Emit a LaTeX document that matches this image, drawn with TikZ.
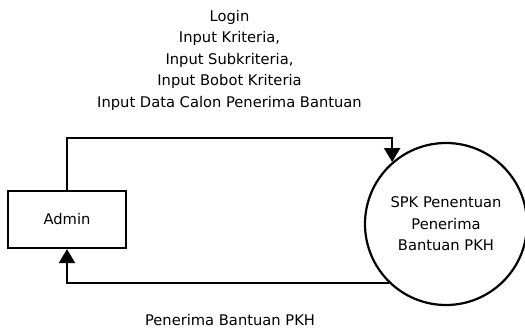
\documentclass[tikz,border=0pt]{standalone}
\usepackage{fontspec}
\setmainfont{DejaVu Sans}
\usetikzlibrary{arrows.meta}
\begin{document}
\begin{tikzpicture}[x=1pt,y=-1pt,
  flow/.style={line width=2.2pt,-{Triangle[width=16pt,length=14pt]}},
  entity/.style={draw,line width=2.2pt,minimum width=118pt,minimum height=57pt,inner sep=0pt},
  process/.style={draw,circle,line width=2.2pt,minimum size=162pt,inner sep=0pt,align=center},
  lbl/.style={align=center,inner sep=0pt},
  every node/.style={font=\fontsize{14.7pt}{21.5pt}\selectfont}]
\useasboundingbox (0,0) rectangle (525,329);
\node[entity] (admin) at (67,219.5) {Admin};
\node[process] (spk) at (446,224) {SPK Penentuan\\Penerima\\Bantuan PKH};
\coordinate (tl) at (67,138);
\coordinate (bl) at (67,282);
% data flowing from the admin into the process, and the result back
\draw[flow] (admin.north -| tl) -- (tl) -- (spk.131.8 |- tl) -- (spk.131.8);
\draw[flow] (spk.226) -- (spk.226 -| bl) -- (admin.south);
\node[lbl] (inlbl) at (229.5,60) {Login\\Input Kriteria,\\Input Subkriteria,\\Input Bobot Kriteria\\Input Data Calon Penerima Bantuan};
\node[lbl] (outlbl) at (230,320) {Penerima Bantuan PKH};
\end{tikzpicture}
\end{document}
